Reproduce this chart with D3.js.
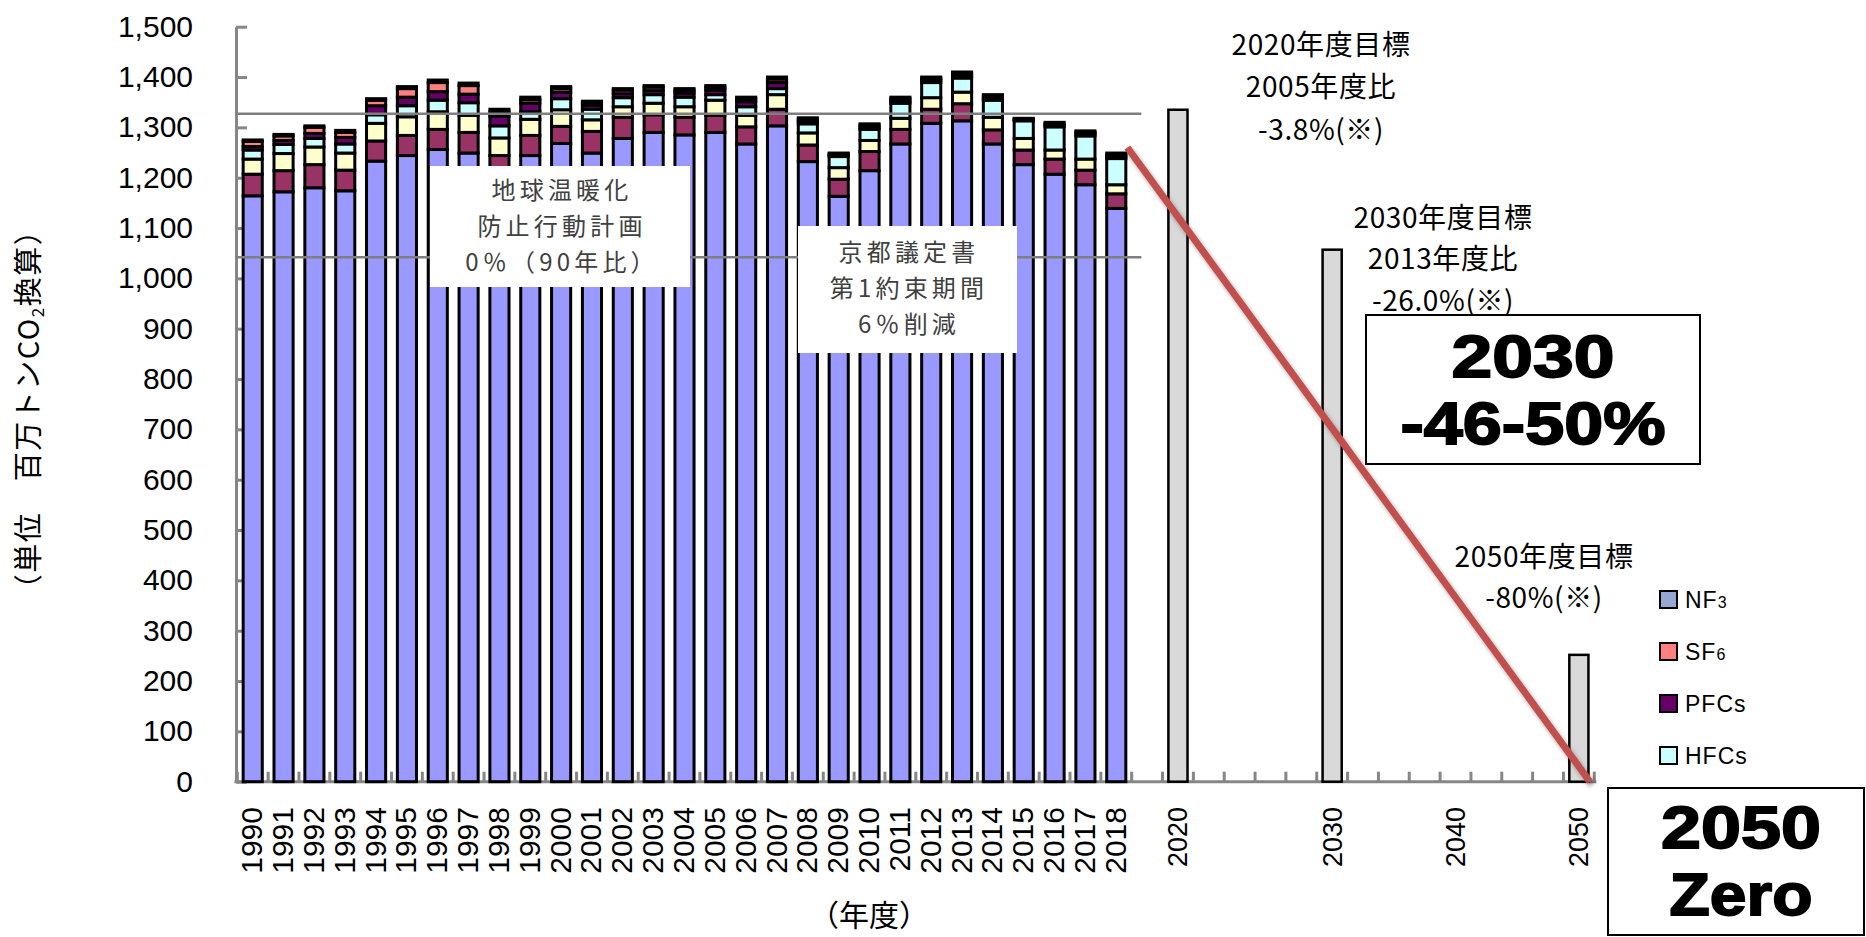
<!DOCTYPE html>
<html>
<head>
<meta charset="utf-8">
<script src="https://cdn.jsdelivr.net/npm/d3@7"></script>
<style>
  body { margin: 0; background: #fff; }
  text { font-family: "Liberation Sans", Arial, sans-serif; }
  .jp { font-family: "Noto Sans CJK JP", sans-serif; }
</style>
</head>
<body>
<div id="chart"></div>
<script>
// categories on the x axis (1990-2018 actuals, then target slots)
const yearLabels = ["1990","1991","1992","1993","1994","1995","1996","1997","1998","1999",
  "2000","2001","2002","2003","2004","2005","2006","2007","2008","2009",
  "2010","2011","2012","2013","2014","2015","2016","2017","2018"];
const futureLabels = ["", "2020", "", "", "", "", "2030", "", "", "", "2040", "", "", "", "2050"];

// emissions by gas (Mt CO2 eq.)
const co2  = [1164,1172,1180,1174,1233,1244,1256,1249,1205,1244,1268,1249,1278,1290,1285,1290,1267,1303,1232,1163,1214,1267,1308,1313,1267,1226,1207,1186,1139];
const ch4  = [43,42,46,41,40,40,40,41,39,40,34,43,42,35,35,34,34,33,33,34,38,29,28,34,28,29,30,29,29];
const n2o  = [30,34,35,34,35,37,35,34,35,32,33,23,21,23,21,30,23,29,24,23,22,22,23,23,25,23,18,22,18];
const hfcs = [18,18,17,18,17,22,23,25,24,15,22,21,18,17,19,11,17,12,18,22,22,30,30,28,34,35,46,46,52];
const pfcs = [7,8,10,13,18,17,17,17,19,17,13,8,8,8,8,9,10,12,5,3,4,4,4,4,4,2,3,4,4];
const sf6  = [10,9,12,10,11,17,18,17,9,7,7,5,7,7,6,6,6,7,4,2,4,5,4,5,4,1,3,3,4];
const nf3  = [3,3,3,4,3,4,5,5,5,5,4,3,3,3,3,3,3,4,3,2,3,3,3,3,3,2,3,3,3];

const gasKeys = ["CO2","CH4","N2O","HFCs","PFCs","SF6","NF3"];
const gasColors = ["#9999ff","#993366","#ffffcc","#ccffff","#660066","#ff8080","#97a7d3"];

// target bars
const targetLabels = ["2020","2030","2050"];
const targetValues = [1335, 1057, 252];

// horizontal reference lines and commitment-period lines
const refValues = [1327, 1042];
const kyotoFrom = [1998.21, 2007.71];
const kyotoTo = [2000.70, 2012.39];
const kyotoValues = [1309, 1255];

// red path to zero
const pathLabels = ["2018","2050"];
const pathValues = [1260, 0];

// visible legend entries (top to bottom)
const legendNames = [["NF","3"],["SF","6"],["PFCs",""],["HFCs",""]];
const legendColors = ["#97a7d3","#ff8080","#660066","#ccffff"];

const yTicks = [0,100,200,300,400,500,600,700,800,900,1000,1100,1200,1300,1400,1500];

const W = 1866, H = 937;
const svg = d3.select("#chart").append("svg").attr("width", W).attr("height", H);

const defs = svg.append("defs");
defs.append("filter").attr("id", "shadow").attr("x", "-20%").attr("y", "-20%").attr("width", "140%").attr("height", "140%")
  .append("feDropShadow").attr("dx", 2).attr("dy", 3).attr("stdDeviation", 2)
  .attr("flood-color", "#000").attr("flood-opacity", 0.35);

const xLabels = yearLabels.concat(futureLabels);
const x = d3.scaleBand().domain(d3.range(xLabels.length))
  .range([237.3, 1594.3]).paddingInner(0.38).paddingOuter(0.19);
const y = d3.scaleLinear().domain([0, 1500]).range([781.7, 26.7]);
const bw = x.bandwidth();
const axisX = 236;

// y axis
const gy = svg.append("g").attr("transform", `translate(${axisX},0)`)
  .call(d3.axisLeft(y).tickValues(yTicks).tickSizeInner(-11).tickSizeOuter(0).tickPadding(43)
    .tickFormat(d3.format(",")));
gy.selectAll("path,line").attr("stroke", "#868686").attr("stroke-width", 3);
gy.selectAll("text").attr("font-size", 30).attr("fill", "#000")
  .attr("font-family", "Liberation Sans, Arial, sans-serif");

// x axis line + boundary ticks
const bounds = d3.range(xLabels.length + 1).map(i => x.range()[0] + i * x.step());
svg.append("g").selectAll("line").data(bounds).join("line")
  .attr("x1", d => d).attr("x2", d => d).attr("y1", y(0)).attr("y2", y(0) - 10)
  .attr("stroke", "#868686").attr("stroke-width", 3);
svg.append("line").attr("x1", axisX - 1.5).attr("x2", bounds[bounds.length - 1] + 2)
  .attr("y1", y(0)).attr("y2", y(0)).attr("stroke", "#868686").attr("stroke-width", 3);

// stacked bars
const rows = yearLabels.map((yr, i) => ({
  idx: i, CO2: co2[i], CH4: ch4[i], N2O: n2o[i], HFCs: hfcs[i], PFCs: pfcs[i], SF6: sf6[i], NF3: nf3[i]
}));
const stacked = d3.stack().keys(gasKeys)(rows);
svg.append("g").selectAll("g").data(stacked).join("g")
  .attr("fill", (d, i) => gasColors[i])
  .selectAll("rect").data(d => d).join("rect")
  .attr("x", d => x(d.data.idx))
  .attr("y", d => y(d[1]))
  .attr("width", bw)
  .attr("height", d => y(d[0]) - y(d[1]))
  .attr("stroke", "#000").attr("stroke-width", 3);

// target bars
svg.append("g").selectAll("rect").data(targetLabels).join("rect")
  .attr("x", d => x(xLabels.indexOf(d)))
  .attr("y", (d, i) => y(targetValues[i]))
  .attr("width", bw)
  .attr("height", (d, i) => y(0) - y(targetValues[i]))
  .attr("fill", "#d9d9d9").attr("stroke", "#000").attr("stroke-width", 2.5);

// x labels
svg.append("g").selectAll("text")
  .data(xLabels.map((l, i) => ({ l, i })).filter(d => d.l !== "")).join("text")
  .attr("transform", d => `translate(${x(d.i) + bw / 2 + (d.i < yearLabels.length ? -1 : 0)},807) rotate(-90)`)
  .attr("text-anchor", "end").attr("dy", "0.35em")
  .attr("font-size", d => d.i < yearLabels.length ? 30 : 27)
  .attr("fill", "#000")
  .text(d => d.l);

// reference lines
const refEnd = x(yearLabels.length) + bw * 0.2;
svg.append("g").selectAll("line").data(refValues).join("line")
  .attr("x1", axisX).attr("x2", refEnd)
  .attr("y1", d => y(d)).attr("y2", d => y(d))
  .attr("stroke", "#7f7f7f").attr("stroke-width", 2.5);

// commitment lines
const yearPos = d3.scaleLinear().domain([1990, 2018]).range([x(0) + bw / 2, x(28) + bw / 2]);
svg.append("g").selectAll("line").data(kyotoValues).join("line")
  .attr("x1", (d, i) => yearPos(kyotoFrom[i])).attr("x2", (d, i) => yearPos(kyotoTo[i]))
  .attr("y1", d => y(d)).attr("y2", d => y(d))
  .attr("stroke", "#ffc000").attr("stroke-width", 6).attr("filter", "url(#shadow)");

// red line to zero
const pathPts = pathLabels.map((l, i) => [x(xLabels.indexOf(l)) + bw + 1.5, y(pathValues[i])]);
svg.append("path").attr("d", d3.line()(pathPts))
  .attr("stroke", "#c0504d").attr("stroke-width", 7).attr("fill", "none")
  .attr("filter", "url(#shadow)");

// text boxes
function box(x0, y0, x1, y1, lines, cx, baselines) {
  svg.append("rect").attr("x", x0).attr("y", y0).attr("width", x1 - x0).attr("height", y1 - y0)
    .attr("fill", "#fff");
  lines.forEach((t, i) => {
    svg.append("text").attr("class", "jp").attr("x", cx).attr("y", baselines[i])
      .attr("text-anchor", "middle").attr("font-size", 24).attr("letter-spacing", 4.2)
      .attr("fill", "#404040").text(t);
  });
}
box(430, 166, 690, 287, ["地球温暖化", "防止行動計画", "0％（90年比）"], 562, [199, 235, 271]);
box(798, 226, 1017, 353, ["京都議定書", "第1約束期間", "6％削減"], 909, [261, 297, 333]);

// target annotations
function notes(lines, cx, baselines) {
  lines.forEach((t, i) => {
    svg.append("text").attr("class", "jp").attr("x", cx).attr("y", baselines[i])
      .attr("text-anchor", "middle").attr("font-size", 28).attr("letter-spacing", 0.6)
      .attr("fill", "#000").text(t);
  });
}
notes(["2020年度目標", "2005年度比", "-3.8%(※)"], 1321, [55, 97, 140]);
notes(["2030年度目標", "2013年度比", "-26.0%(※)"], 1443, [228, 269, 311]);
notes(["2050年度目標", "-80%(※)"], 1544, [567, 608]);

// legend
const lg = svg.append("g");
legendNames.forEach((n, i) => {
  const cy = 600 + i * 52;
  lg.append("rect").attr("x", 1660).attr("y", cy - 9).attr("width", 17).attr("height", 17)
    .attr("fill", legendColors[i]).attr("stroke", "#000").attr("stroke-width", 2);
  const t = lg.append("text").attr("x", 1685).attr("y", cy + 8).attr("font-size", 23)
    .attr("font-family", "Noto Sans, sans-serif").attr("letter-spacing", 1).attr("fill", "#000");
  t.append("tspan").text(n[0]);
  if (n[1]) t.append("tspan").attr("font-size", 16).text(n[1]);
});

// big boxes
function bigBox(x0, y0, x1, y1, lines, cx, baselines, widths) {
  svg.append("rect").attr("x", x0).attr("y", y0).attr("width", x1 - x0).attr("height", y1 - y0)
    .attr("fill", "#fff").attr("stroke", "#000").attr("stroke-width", 2);
  lines.forEach((t, i) => {
    svg.append("text").attr("x", cx).attr("y", baselines[i]).attr("text-anchor", "middle")
      .attr("font-size", 60).attr("font-weight", "bold").attr("fill", "#000")
      .attr("stroke", "#000").attr("stroke-width", 1.8)
      .attr("textLength", widths[i]).attr("lengthAdjust", "spacingAndGlyphs").text(t);
  });
}
bigBox(1366, 315, 1700, 464, ["2030", "-46-50%"], 1533, [377, 444], [163, 265]);
bigBox(1608, 788, 1864, 935, ["2050", "Zero"], 1741, [848, 915], [160, 143]);

// axis titles
const yt = svg.append("text").attr("class", "jp")
  .attr("transform", "translate(29,409) rotate(-90)")
  .attr("text-anchor", "middle").attr("dy", "0.35em").attr("font-size", 29)
  .attr("letter-spacing", 1.5).attr("fill", "#000");
yt.append("tspan").text("（単位　百万トンCO");
yt.append("tspan").attr("font-size", 17).attr("dy", 5).text("2");
yt.append("tspan").attr("dy", -5).text("換算）");

svg.append("text").attr("class", "jp").attr("x", 869).attr("y", 926)
  .attr("text-anchor", "middle").attr("font-size", 30).attr("fill", "#000").text("（年度）");
</script>
</body>
</html>
